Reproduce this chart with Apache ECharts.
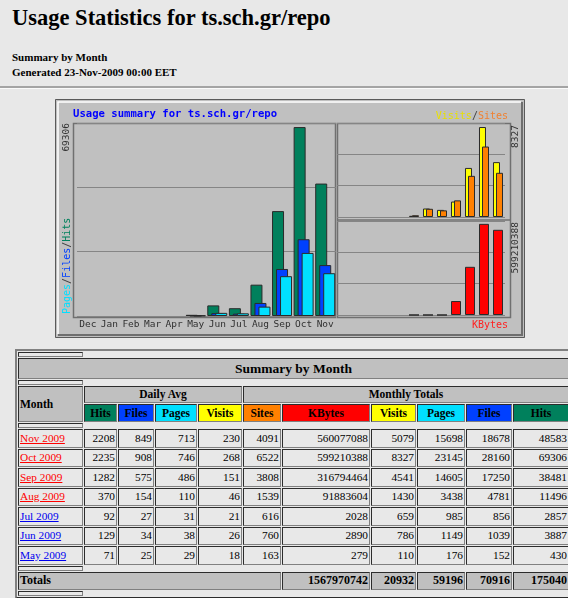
<!DOCTYPE html>
<html>
<head>
<meta charset="utf-8">
<title>Usage Statistics for ts.sch.gr/repo - Summary by Month</title>
<script src="https://cdn.jsdelivr.net/npm/echarts@6.0.0/dist/echarts.min.js"></script>
<style>
  html, body { margin: 0; padding: 0; }
  body {
    background: #e8e8e8; width: 568px; height: 598px; overflow: hidden; position: relative;
    font-family: "Liberation Serif", "DejaVu Serif", serif; color: #000;
  }
  #title { position: absolute; left: 12px; top: 5px; margin: 0; font-size: 22.5px; font-weight: bold; white-space: nowrap; }
  .sub { position: absolute; left: 12px; font-size: 11px; font-weight: bold; white-space: nowrap; }
  #rule { position: absolute; left: 0; top: 86px; width: 568px; height: 0; border-top: 2px solid #a4a4a4; border-bottom: 1px solid #fafafa; }
  #chart { position: absolute; left: 55px; top: 99px; width: 470px; height: 239px; background: #c0c0c0; }
  #summary { position: absolute; left: 15px; top: 349px; width: 557px; table-layout: fixed; }
  #summary td, #summary th { box-sizing: border-box; font-size: 11.3px; line-height: 13px; white-space: nowrap; overflow: hidden; }
  #summary th { font-weight: bold; }
  #summary .gray { background: #c0c0c0; }
  #summary .sep th { height: 5px; padding: 0; }
  #summary .big { font-size: 13.5px; height: 21px; }
  #summary .h1 th { height: 17px; font-size: 11.5px; }
  #summary .h2 th { height: 18px; font-size: 11.5px; }
  #summary .row td { height: 18.5px; }
  #summary .tot th { height: 18px; font-size: 12px; }
  #summary a { text-decoration: underline; }
</style>
</head>
<body>
<h2 id="title">Usage Statistics for ts.sch.gr/repo</h2>
<div class="sub" style="top:51px">Summary by Month</div>
<div class="sub" style="top:66px">Generated 23-Nov-2009 00:00 EET</div>
<div id="rule"></div>
<div id="chart"></div>
<table id="summary" border="2" cellspacing="1" cellpadding="1"></table>

<script>
// x axis of the graph: last 12 months
var graphMonths = ['Dec', 'Jan', 'Feb', 'Mar', 'Apr', 'May', 'Jun', 'Jul', 'Aug', 'Sep', 'Oct', 'Nov']
var emptyMonths = 5 // Dec..Apr have no data

// table rows, oldest first (May 2009 .. Nov 2009)
var rowMonths = ['May 2009', 'Jun 2009', 'Jul 2009', 'Aug 2009', 'Sep 2009', 'Oct 2009', 'Nov 2009']

// daily averages
var dayHits = [71, 129, 92, 370, 1282, 2235, 2208]
var dayFiles = [25, 34, 27, 154, 575, 908, 849]
var dayPages = [29, 38, 31, 110, 486, 746, 713]
var dayVisits = [18, 26, 21, 46, 151, 268, 230]

// monthly totals
var sites = [163, 760, 616, 1539, 3808, 6522, 4091]
var kbytes = [279, 2890, 2028, 91883604, 316794464, 599210388, 560077088]
var visits = [110, 786, 659, 1430, 4541, 8327, 5079]
var pages = [176, 1149, 985, 3438, 14605, 23145, 15698]
var files = [152, 1039, 856, 4781, 17250, 28160, 18678]
var hits = [430, 3887, 2857, 11496, 38481, 69306, 48583]

// totals row: KBytes, Visits, Pages, Files, Hits
var totals = [1567970742, 20932, 59196, 70916, 175040]

var COLORS = {
  hits: '#00805c', files: '#0040ff', pages: '#00e0ff',
  visits: '#ffff00', sites: '#ff8000', kbytes: '#ff0000'
}

// ---------- table ----------
function buildTable () {
  var colWidths = [65, 33, 36, 42, 44, 38, 88, 45, 48, 46, 56]
  var heads = [
    ['Hits', COLORS.hits], ['Files', COLORS.files], ['Pages', COLORS.pages], ['Visits', COLORS.visits],
    ['Sites', COLORS.sites], ['KBytes', COLORS.kbytes], ['Visits', COLORS.visits], ['Pages', COLORS.pages],
    ['Files', COLORS.files], ['Hits', COLORS.hits]
  ]
  var sep = '<tr class="sep"><th></th></tr>'
  var html = '<colgroup>' + colWidths.map(function (w) { return '<col style="width:' + w + 'px">' }).join('') + '</colgroup>'
  html += sep
  html += '<tr><th colspan="11" class="gray big" align="center">Summary by Month</th></tr>'
  html += sep
  html += '<tr class="h1"><th rowspan="2" class="gray" align="left">Month</th>' +
    '<th colspan="4" class="gray" align="center">Daily Avg</th>' +
    '<th colspan="6" class="gray" align="center">Monthly Totals</th></tr>'
  html += '<tr class="h2">' + heads.map(function (h) {
    return '<th align="center" style="background:' + h[1] + '">' + h[0] + '</th>'
  }).join('') + '</tr>'
  html += sep
  for (var i = rowMonths.length - 1; i >= 0; i--) {
    var linkColor = i >= 3 ? '#ff0000' : '#0000ee' // visited / not visited
    var cells = [dayHits[i], dayFiles[i], dayPages[i], dayVisits[i], sites[i], kbytes[i], visits[i], pages[i], files[i], hits[i]]
    html += '<tr class="row"><td><a href="#" style="color:' + linkColor + '">' + rowMonths[i] + '</a></td>' +
      cells.map(function (v) { return '<td align="right">' + v + '</td>' }).join('') + '</tr>'
  }
  html += sep
  html += '<tr class="tot"><th colspan="6" class="gray" align="left">Totals</th>' +
    totals.map(function (v) { return '<th class="gray" align="right">' + v + '</th>' }).join('') + '</tr>'
  html += sep
  document.getElementById('summary').innerHTML = html
}

// ---------- graph ----------
function pad (arr) {
  var out = []
  for (var i = 0; i < emptyMonths; i++) out.push(null)
  return out.concat(arr)
}

function drawGraph () {
  var chart = echarts.init(document.getElementById('chart'))
  var mono = '"DejaVu Sans Mono", monospace'
  var barBorder = { borderColor: '#2a2a2a', borderWidth: 1 }
  var W = 470
  var H = 239

  chart.setOption({
    animation: false,
    backgroundColor: 'transparent',
    grid: [
      { left: 22, top: 24, width: 259, height: 193 },
      { left: 282, top: 24, width: 168, height: 94 },
      { left: 282, top: 122, width: 168, height: 94 }
    ],
    xAxis: [0, 1, 2].map(function (g) {
      return {
        type: 'category', gridIndex: g, data: graphMonths,
        axisLine: { show: false }, axisTick: { show: false },
        axisLabel: { show: g === 0, margin: 4, color: '#303030', fontFamily: mono, fontSize: 9.5, interval: 0 }
      }
    }),
    yAxis: [
      [0, 70800, 23600],
      [1, 8700, 2900],
      [2, 618000000, 206000000]
    ].map(function (a) {
      return {
        type: 'value', gridIndex: a[0], min: 0, max: a[1], interval: a[2],
        axisLabel: { show: false }, axisLine: { show: false }, axisTick: { show: false },
        splitLine: { lineStyle: { color: '#858585', width: 1 } }
      }
    }),
    series: [
      { name: 'Hits', type: 'bar', xAxisIndex: 0, yAxisIndex: 0, data: pad(hits), barWidth: 12, barGap: '-66.67%',
        itemStyle: Object.assign({ color: COLORS.hits }, barBorder) },
      { name: 'Files', type: 'bar', xAxisIndex: 0, yAxisIndex: 0, data: pad(files), barWidth: 12, barGap: '-66.67%',
        itemStyle: Object.assign({ color: COLORS.files }, barBorder) },
      { name: 'Pages', type: 'bar', xAxisIndex: 0, yAxisIndex: 0, data: pad(pages), barWidth: 12, barGap: '-66.67%',
        itemStyle: Object.assign({ color: COLORS.pages }, barBorder) },
      { name: 'Visits', type: 'bar', xAxisIndex: 1, yAxisIndex: 1, data: pad(visits), barWidth: 7, barGap: '-57.14%',
        itemStyle: Object.assign({ color: COLORS.visits }, barBorder) },
      { name: 'Sites', type: 'bar', xAxisIndex: 1, yAxisIndex: 1, data: pad(sites), barWidth: 7, barGap: '-57.14%',
        itemStyle: Object.assign({ color: COLORS.sites }, barBorder) },
      { name: 'KBytes', type: 'bar', xAxisIndex: 2, yAxisIndex: 2, data: pad(kbytes), barWidth: 10,
        itemStyle: Object.assign({ color: COLORS.kbytes }, barBorder) }
    ],
    graphic: [
      // raised outer frame
      { type: 'rect', shape: { x: 0.5, y: 0.5, width: W - 1, height: H - 1 }, style: { fill: null, stroke: '#5a5a5a', lineWidth: 1 } },
      { type: 'polyline', shape: { points: [[3, H - 4], [3, 3], [W - 4, 3]] }, style: { stroke: '#ffffff', lineWidth: 1.5, fill: null } },
      { type: 'polyline', shape: { points: [[3, H - 3], [W - 3, H - 3], [W - 3, 3]] }, style: { stroke: '#6e6e6e', lineWidth: 2, fill: null } },
      // sunken plot frames
      { type: 'rect', shape: { x: 18.5, y: 24.5, width: 262, height: 194 }, style: { fill: null, stroke: '#707070', lineWidth: 1.5 } },
      { type: 'rect', shape: { x: 282.5, y: 24.5, width: 173, height: 194 }, style: { fill: null, stroke: '#707070', lineWidth: 1.5 } },
      { type: 'line', shape: { x1: 282.5, y1: 121, x2: 455.5, y2: 121 }, style: { stroke: '#707070', lineWidth: 1.5 } },
      // texts
      { type: 'text', x: 18, y: 15, style: { text: 'Usage summary for ts.sch.gr/repo', fill: '#0000ff', font: 'bold 10.6px ' + mono, verticalAlign: 'middle' } },
      { type: 'text', x: 12, y: 24, rotation: Math.PI / 2,
        style: { text: String(Math.max.apply(null, hits)), fill: '#303030', font: '9.5px ' + mono, align: 'right', verticalAlign: 'middle' } },
      { type: 'text', x: 12, y: 215, rotation: Math.PI / 2,
        style: {
          text: '{p|Pages}{s|/}{f|Files}{s|/}{h|Hits}', font: '10px ' + mono, align: 'left', verticalAlign: 'middle',
          rich: {
            p: { fill: COLORS.pages, font: '10px ' + mono },
            s: { fill: '#404040', font: '10px ' + mono },
            f: { fill: COLORS.files, font: '10px ' + mono },
            h: { fill: COLORS.hits, font: '10px ' + mono }
          }
        } },
      { type: 'text', x: 453, y: 17,
        style: {
          text: '{v|Visits}{s|/}{t|Sites}', font: '10px ' + mono, align: 'right', verticalAlign: 'middle',
          rich: {
            v: { fill: '#e8e000', font: '10px ' + mono },
            s: { fill: '#404040', font: '10px ' + mono },
            t: { fill: '#f08030', font: '10px ' + mono }
          }
        } },
      { type: 'text', x: 461, y: 26, rotation: Math.PI / 2,
        style: { text: String(Math.max.apply(null, visits)), fill: '#303030', font: '9.5px ' + mono, align: 'right', verticalAlign: 'middle' } },
      { type: 'text', x: 461, y: 123, rotation: Math.PI / 2,
        style: { text: String(Math.max.apply(null, kbytes)), fill: '#303030', font: '9.5px ' + mono, align: 'right', verticalAlign: 'middle' } },
      { type: 'text', x: 453, y: 226,
        style: { text: 'KBytes', fill: '#ff2020', font: '10px ' + mono, align: 'right', verticalAlign: 'middle' } }
    ]
  })
}

buildTable()
drawGraph()
</script>
</body>
</html>
